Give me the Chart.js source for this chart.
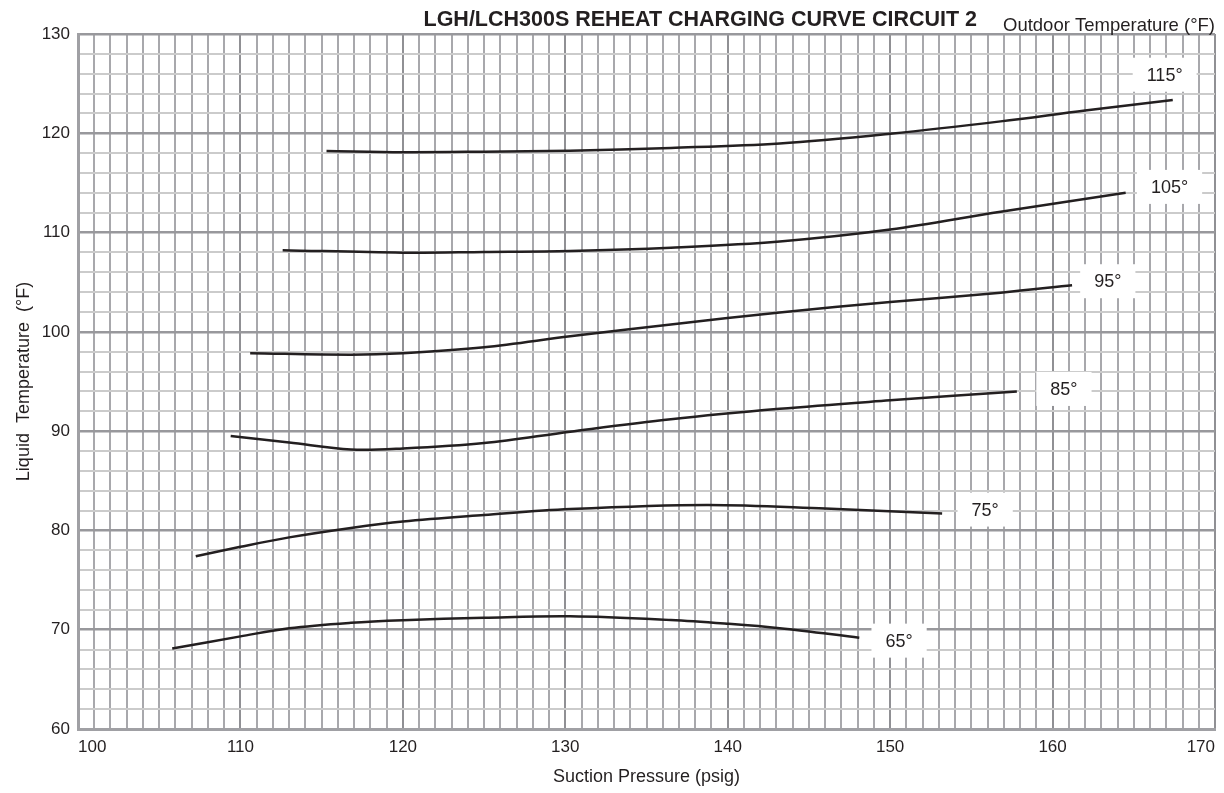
<!DOCTYPE html>
<html lang="en">
<head>
    <meta charset="UTF-8">
    <title>LGH/LCH300S Reheat Charging Curve Circuit 2</title>
    <script src="https://cdn.jsdelivr.net/npm/chart.js"></script>
    <style>
        body {
            margin: 0;
            background-color: #ffffff;
        }
        .chart-box {
            width: 1224px;
            height: 793px;
        }
    </style>
</head>
<body>
    <div class="chart-box">
        <canvas id="chargeChart"></canvas>
    </div>

    <script>
        // curve labels (outdoor temperature) and where each label sits, in chart units
        const outdoorTemps = ['65°', '75°', '85°', '95°', '105°', '115°'];
        const labelPressure = [150.55, 155.85, 160.7, 163.4, 167.2, 166.9];
        const labelTemp = [68.9, 82.1, 94.25, 105.1, 114.6, 125.9];

        // suction pressure (psig) / liquid temperature (°F)
        const p65 = [105.8, 110, 113, 116.8, 120, 125, 130.3, 136.5, 140, 143.2, 148.1];
        const t65 = [68.1, 69.33, 70.15, 70.7, 70.96, 71.2, 71.35, 70.98, 70.6, 70.15, 69.2];

        const p75 = [107.25, 110, 113, 116.8, 120, 125, 130.3, 138.7, 146, 153.2];
        const t75 = [77.4, 78.35, 79.3, 80.25, 80.9, 81.55, 82.15, 82.56, 82.2, 81.7];

        const p85 = [109.4, 113, 116.8, 120, 125, 130.3, 136.5, 143.2, 150, 157.8];
        const t85 = [89.5, 88.85, 88.15, 88.25, 88.8, 89.95, 91.2, 92.25, 93.1, 94.0];

        const p95 = [110.6, 116.8, 120, 125, 130.3, 136.5, 143.2, 150, 156.8, 161.2];
        const t95 = [97.85, 97.7, 97.85, 98.45, 99.55, 100.75, 101.95, 103.0, 103.95, 104.7];

        const p105 = [112.6, 120, 125, 130.3, 136.5, 143.2, 150, 156.8, 164.5];
        const t105 = [108.23, 107.98, 108.05, 108.15, 108.48, 109.1, 110.3, 112.1, 114.0];

        const p115 = [115.3, 120, 125, 130.3, 136.5, 143.2, 150, 156.8, 162, 167.4];
        const t115 = [118.22, 118.1, 118.15, 118.25, 118.53, 118.98, 119.96, 121.2, 122.3, 123.35];

        const xMin = 100, xMax = 170;
        const yMin = 60, yMax = 130;

        const curves = [[p65, t65], [p75, t75], [p85, t85], [p95, t95], [p105, t105], [p115, t115]];

        const fontFamily = "'Liberation Sans', Arial, sans-serif";
        Chart.defaults.font.family = fontFamily;
        Chart.defaults.color = '#231f20';

        // white boxes with the outdoor temperature, title and the top-right caption
        const curveLabels = {
            id: 'curveLabels',
            afterDatasetsDraw(chart) {
                const ctx = chart.ctx;
                const xs = chart.scales.x;
                const ys = chart.scales.y;
                ctx.save();
                ctx.font = '18px ' + fontFamily;
                ctx.textAlign = 'center';
                ctx.textBaseline = 'middle';
                outdoorTemps.forEach((txt, i) => {
                    const cx = xs.getPixelForValue(labelPressure[i]);
                    const cy = ys.getPixelForValue(labelTemp[i]);
                    const w = ctx.measureText(txt).width + 28;
                    const h = 34;
                    ctx.fillStyle = '#ffffff';
                    ctx.fillRect(cx - w / 2, cy - h / 2, w, h);
                    ctx.fillStyle = '#231f20';
                    ctx.fillText(txt, cx, cy + 1);
                });
                ctx.restore();
            },
            afterDraw(chart) {
                const ctx = chart.ctx;
                ctx.save();
                ctx.fillStyle = '#231f20';
                ctx.textAlign = 'right';
                ctx.textBaseline = 'alphabetic';
                ctx.font = 'bold 21.5px ' + fontFamily;
                ctx.fillText('LGH/LCH300S REHEAT CHARGING CURVE CIRCUIT 2', 977, 26);
                ctx.font = '18.5px ' + fontFamily;
                ctx.fillText('Outdoor Temperature (°F)', chart.chartArea.right, 31);
                ctx.restore();
            }
        };

        const ctx = document.getElementById('chargeChart').getContext('2d');
        new Chart(ctx, {
            type: 'line',
            data: {
                datasets: curves.map((c, i) => ({
                    label: outdoorTemps[i],
                    data: c[0].map((p, j) => ({ x: p, y: c[1][j] })),
                    borderColor: '#231f20',
                    borderWidth: 2.5,
                    pointRadius: 0,
                    fill: false,
                    tension: 0.35
                }))
            },
            options: {
                responsive: true,
                maintainAspectRatio: false,
                animation: false,
                layout: {
                    padding: { left: 0, right: 9, top: 34, bottom: 0 }
                },
                plugins: {
                    legend: { display: false },
                    tooltip: { enabled: false }
                },
                scales: {
                    x: {
                        type: 'linear',
                        min: xMin,
                        max: xMax,
                        afterFit(scale) { scale.height = 64; },
                        border: { display: true, color: '#a0a0a4', width: 3 },
                        grid: {
                            drawTicks: false,
                            lineWidth: 2,
                            color: c => (c.tick && c.tick.value % 10 === 0) ? '#909094' : '#a8a8ac'
                        },
                        ticks: {
                            stepSize: 1,
                            maxTicksLimit: 200,
                            autoSkip: false,
                            maxRotation: 0,
                            align: 'inner',
                            padding: 8,
                            font: { size: 17 },
                            callback: v => v % 10 === 0 ? v : ''
                        },
                        title: {
                            display: true,
                            text: 'Suction Pressure (psig)',
                            font: { size: 18 },
                            padding: { top: 0, bottom: 5 }
                        }
                    },
                    y: {
                        min: yMin,
                        max: yMax,
                        afterFit(scale) { scale.width = 78; },
                        border: { display: true, color: '#a0a0a4', width: 3 },
                        grid: {
                            drawTicks: false,
                            lineWidth: c => (c.tick && c.tick.value % 10 === 0) ? 2.5 : 2,
                            color: c => (c.tick && c.tick.value % 10 === 0) ? '#98989c' : '#cbcbcb'
                        },
                        ticks: {
                            stepSize: 2,
                            maxTicksLimit: 200,
                            autoSkip: false,
                            padding: 8,
                            font: { size: 17 },
                            callback: v => v % 10 === 0 ? v : ''
                        },
                        title: {
                            display: true,
                            text: 'Liquid  Temperature  (°F)',
                            font: { size: 18 },
                            padding: { top: 13, bottom: 0 }
                        }
                    }
                }
            },
            plugins: [curveLabels]
        });
    </script>
</body>
</html>
